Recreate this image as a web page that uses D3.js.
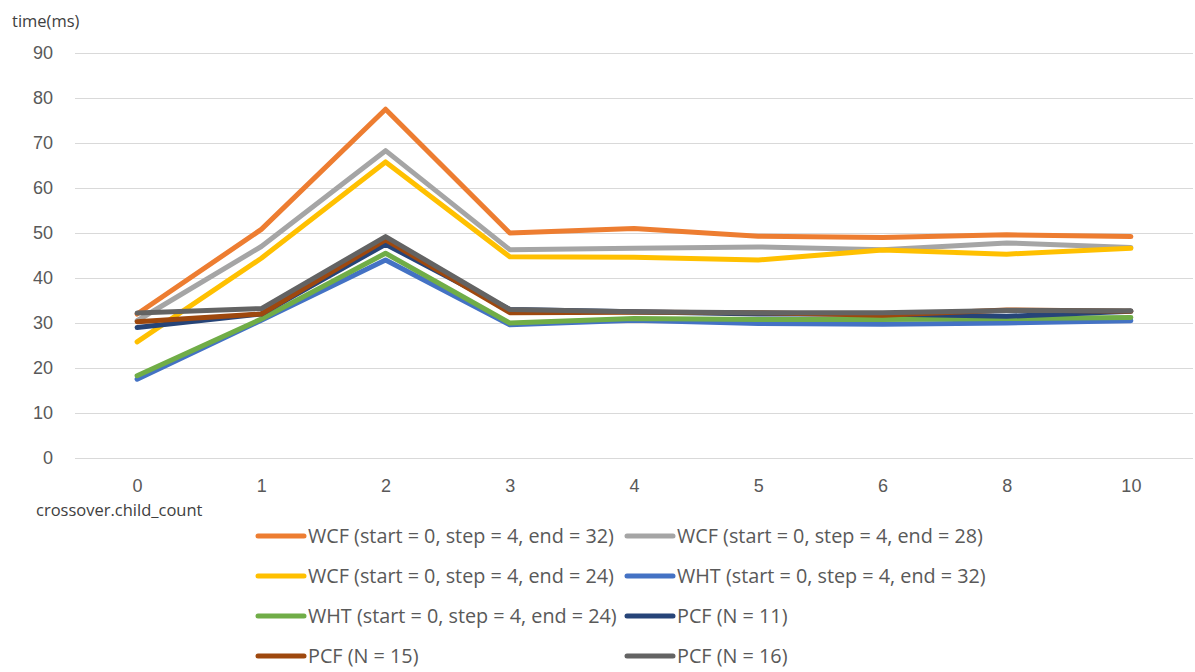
<!DOCTYPE html>
<html>
<head>
<meta charset="utf-8">
<script src="https://cdn.jsdelivr.net/npm/d3@7/dist/d3.min.js"></script>
<style>
  html, body { margin: 0; padding: 0; background: #fff; }
  svg { display: block; font-family: "Open Sans", "Noto Sans", sans-serif; }
</style>
</head>
<body>
<svg id="chart" width="1195" height="672"></svg>
<script>
// Categories on the x axis (crossover.child_count)
const categories = ["0", "1", "2", "3", "4", "5", "6", "8", "10"];

// Timing series in milliseconds
const wcf32 = [32, 50.8, 77.5, 50, 51, 49.3, 49, 49.6, 49.2];
const wcf28 = [30.5, 47, 68.3, 46.3, 46.6, 46.9, 46.3, 47.8, 46.8];
const wcf24 = [25.8, 44.4, 65.8, 44.7, 44.6, 44, 46.2, 45.3, 46.6];
const wht32 = [17.5, 30.6, 44, 29.6, 30.6, 29.9, 29.7, 30, 30.5];
const wht24 = [18.3, 30.9, 45.5, 30, 31, 30.8, 30.8, 31, 31.2];
const pcf11 = [29, 32, 47.5, 33, 32.5, 32, 32, 31.5, 32.6];
const pcf15 = [30.3, 32, 48.5, 32.3, 32.4, 32.3, 31.7, 32.9, 32.6];
const pcf16 = [32.2, 33.2, 49.2, 33, 32.5, 32.3, 32.3, 32.8, 32.7];

const seriesNames = [
  "WCF (start = 0, step = 4, end = 32)",
  "WCF (start = 0, step = 4, end = 28)",
  "WCF (start = 0, step = 4, end = 24)",
  "WHT (start = 0, step = 4, end = 32)",
  "WHT (start = 0, step = 4, end = 24)",
  "PCF (N = 11)",
  "PCF (N = 15)",
  "PCF (N = 16)"
];
const seriesValues = [wcf32, wcf28, wcf24, wht32, wht24, pcf11, pcf15, pcf16];
const seriesColors = ["#ED7D31", "#A5A5A5", "#FFC000", "#4472C4", "#70AD47", "#264478", "#9E480E", "#636363"];

const yTicks = [0, 10, 20, 30, 40, 50, 60, 70, 80, 90];

const svg = d3.select("#chart");

const plot = { left: 75, right: 1193, top: 53, bottom: 458 };

const x = d3.scalePoint()
  .domain(categories)
  .range([plot.left, plot.right])
  .padding(0.5);

const y = d3.scaleLinear()
  .domain([0, 90])
  .range([plot.bottom, plot.top]);

// Horizontal gridlines and value labels
const yAxis = d3.axisLeft(y)
  .tickValues(yTicks)
  .tickSize(-(plot.right - plot.left))
  .tickPadding(22)
  .tickFormat(d3.format("d"));

const gy = svg.append("g")
  .attr("transform", `translate(${plot.left},0)`)
  .call(yAxis);
gy.select(".domain").remove();
gy.selectAll(".tick line").attr("stroke", "#d9d9d9").attr("stroke-width", 1);
gy.selectAll(".tick text")
  .attr("fill", "#595959")
  .style("font-size", "18px");

// Category labels
const xAxis = d3.axisBottom(x).tickSize(0).tickPadding(21);
const gx = svg.append("g")
  .attr("transform", `translate(0,${plot.bottom})`)
  .call(xAxis);
gx.select(".domain").remove();
gx.selectAll(".tick text")
  .attr("fill", "#595959")
  .style("font-size", "18px");

// Axis titles
svg.append("text")
  .attr("x", 12)
  .attr("y", 27)
  .attr("fill", "#404040")
  .style("font-size", "16.5px")
  .text("time(ms)");

svg.append("text")
  .attr("x", 36)
  .attr("y", 516)
  .attr("fill", "#404040")
  .style("font-size", "16.5px")
  .text("crossover.child_count");

// Series lines
const line = d3.line()
  .x((d, i) => x(categories[i]))
  .y(d => y(d));

svg.append("g")
  .selectAll("path")
  .data(seriesValues)
  .join("path")
  .attr("d", d => line(d))
  .attr("fill", "none")
  .attr("stroke", (d, i) => seriesColors[i])
  .attr("stroke-width", 5)
  .attr("stroke-linejoin", "round")
  .attr("stroke-linecap", "round");

// Legend: two columns, four rows
const legendCols = [256, 625];
const legendRowY = [536, 576, 616, 656];

const legend = svg.append("g")
  .selectAll("g")
  .data(seriesNames)
  .join("g")
  .attr("transform", (d, i) => `translate(${legendCols[i % 2]},${legendRowY[Math.floor(i / 2)]})`);

legend.append("line")
  .attr("x1", 2)
  .attr("x2", 48)
  .attr("y1", 0)
  .attr("y2", 0)
  .attr("stroke", (d, i) => seriesColors[i])
  .attr("stroke-width", 5)
  .attr("stroke-linecap", "round");

legend.append("text")
  .attr("x", 52)
  .attr("y", 0)
  .attr("dy", "0.36em")
  .attr("fill", "#595959")
  .style("font-size", "19.8px")
  .text(d => d);
</script>
</body>
</html>
